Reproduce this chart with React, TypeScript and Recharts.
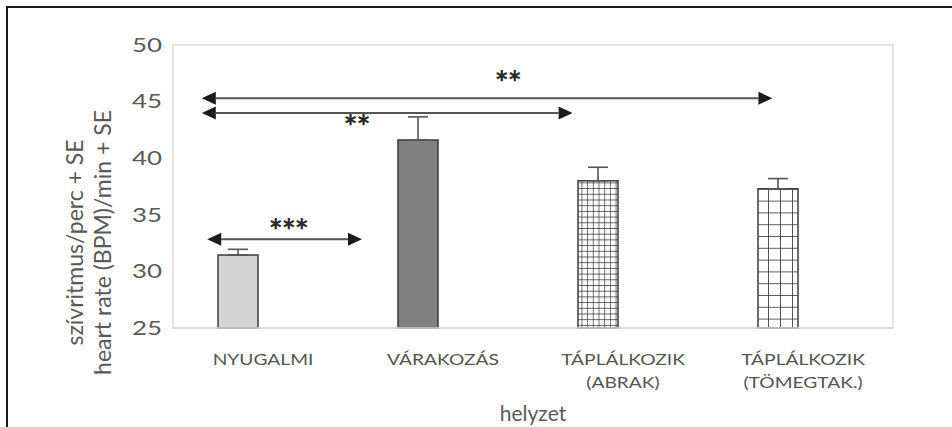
import React from "react";
import {
  Bar,
  BarChart,
  Cell,
  ErrorBar,
  Label,
  ReferenceArea,
  ReferenceDot,
  ReferenceLine,
  XAxis,
  YAxis,
} from "recharts";

const categories = ["NYUGALMI", "VÁRAKOZÁS", "TÁPLÁLKOZIK\n(ABRAK)", "TÁPLÁLKOZIK\n(TÖMEGTAK.)"];
const heartRate = [31.45, 41.6, 38.0, 37.3];
const heartRateSE = [0.5, 2.05, 1.2, 0.9];
const yTicks = [25, 30, 35, 40, 45, 50];

// significance arrows: x in category units (0..4), y in bpm
const arrowStart = [0.16, 0.16, 0.19];
const arrowEnd = [3.33, 2.22, 1.05];
const arrowLevel = [45.3, 44.0, 32.85];
const starText = ["**", "**", "***"];
const starX = [1.86, 1.02, 0.64];
const starY = [47.2, 43.3, 34.1];

const barFills = ["#d3d3d3", "#808080", "url(#gridSmall)", "url(#gridLarge)"];
const FONT = "Lato, 'Open Sans', sans-serif";
const GREY = "#595959";

const data = categories.map((name, i) => ({
  name,
  pos: i + 0.5,
  hr: heartRate[i],
  err: [0, heartRateSE[i]],
  empty: null,
}));

function CategoryTick({ x, y, payload }: any) {
  const lines = String(payload.value).split("\n");
  return (
    <g>
      {lines.map((line, i) => (
        <text
          key={i}
          transform={`translate(${x},${y + 36.5 + i * 23.5}) scale(1.2,1)`}
          textAnchor="middle"
          fontFamily={FONT}
          fontSize={16}
          fill="#555"
        >
          {line}
        </text>
      ))}
    </g>
  );
}

function ValueTick({ x, y, payload }: any) {
  return (
    <text
      transform={`translate(${x - 11},${y + 6.7}) scale(1.4,1)`}
      textAnchor="end"
      fontFamily={FONT}
      fontSize={18.5}
      fill={GREY}
    >
      {payload.value}
    </text>
  );
}

function YTitle({ viewBox }: any) {
  const cy = viewBox.y + viewBox.height / 2 + 56;
  const lines = ["szívritmus/perc + SE", "heart rate (BPM)/min + SE"];
  const xs = [viewBox.x + 83, viewBox.x + 111];
  return (
    <g>
      {lines.map((t, i) => (
        <text
          key={i}
          transform={`translate(${xs[i]},${cy}) rotate(-90)`}
          textAnchor="middle"
          fontFamily={FONT}
          fontSize={23}
          fill={GREY}
        >
          {t}
        </text>
      ))}
    </g>
  );
}

function XTitle({ viewBox }: any) {
  return (
    <text
      x={viewBox.x + viewBox.width / 2}
      y={viewBox.y + 92.5}
      textAnchor="middle"
      fontFamily={FONT}
      fontSize={21}
      fill={GREY}
    >
      helyzet
    </text>
  );
}

function DoubleArrow({ x1, y1, x2, y2 }: any) {
  const len = 14;
  const half = 6.5;
  return (
    <g>
      <line x1={x1 + len} y1={y1} x2={x2 - len} y2={y2} stroke="#555" strokeWidth={2} />
      <polygon points={`${x1},${y1} ${x1 + len},${y1 - half} ${x1 + len},${y1 + half}`} fill="#1c1c1c" />
      <polygon points={`${x2},${y2} ${x2 - len},${y2 - half} ${x2 - len},${y2 + half}`} fill="#1c1c1c" />
    </g>
  );
}

export default function App() {
  return (
    <div style={{ position: "absolute", left: 0, top: 0, width: 952, height: 427, background: "#fff" }}>
      <div
        style={{
          position: "absolute",
          left: 6,
          top: 6,
          width: 946,
          height: 421,
          borderLeft: "2px solid #1a1a1a",
          borderTop: "2px solid #1a1a1a",
        }}
      />
      <div style={{ position: "absolute", left: 0, top: 0 }}>
        <BarChart
          width={952}
          height={427}
          data={data}
          margin={{ top: 45, right: 59, left: 0, bottom: 0 }}
          barSize={40}
          barGap={10}
        >
          <defs>
            <pattern id="gridSmall" width="5.7" height="5.7" patternUnits="userSpaceOnUse">
              <rect width="5.7" height="5.7" fill="#fff" />
              <path d="M0 0 H5.7 M0 0 V5.7" stroke="#2b2b2b" strokeWidth={1.3} />
            </pattern>
            <pattern id="gridLarge" width="12" height="11.8" patternUnits="userSpaceOnUse">
              <rect width="12" height="11.8" fill="#fff" />
              <path d="M0 0 H12 M0 0 V11.8" stroke="#2b2b2b" strokeWidth={1.6} />
            </pattern>
          </defs>
          <XAxis
            xAxisId="num"
            dataKey="pos"
            type="number"
            domain={[0, 4]}
            allowDataOverflow
            ticks={[0, 1, 2, 3, 4]}
            height={0}
            axisLine={false}
            tick={() => <g />}
            tickSize={8}
            tickLine={{ stroke: "#d9d9d9", strokeWidth: 1.5 }}
          />
          <XAxis
            dataKey="name"
            height={99}
            interval={0}
            tickLine={false}
            tickSize={0}
            tickMargin={0}
            axisLine={{ stroke: "#d9d9d9", strokeWidth: 1.5 }}
            tick={<CategoryTick />}
          >
            <Label content={<XTitle />} />
          </XAxis>
          <YAxis
            width={173}
            domain={[25, 50]}
            ticks={yTicks}
            axisLine={false}
            tickLine={false}
            tickSize={0}
            tickMargin={0}
            tick={<ValueTick />}
          >
            <Label content={<YTitle />} />
          </YAxis>
          <ReferenceArea
            xAxisId="num"
            x1={0}
            x2={4}
            y1={25}
            y2={50}
            fill="none"
            fillOpacity={0}
            stroke="#dcdcdc"
            strokeWidth={1.5}
            ifOverflow="visible"
          />
          <Bar dataKey="hr" isAnimationActive={false} stroke="#3c3c3c" strokeWidth={1.5}>
            {data.map((d, i) => (
              <Cell key={d.name} fill={barFills[i]} />
            ))}
            <ErrorBar dataKey="err" width={10} stroke="#555" strokeWidth={1.6} direction="y" />
          </Bar>
          <Bar dataKey="empty" isAnimationActive={false} />
          {arrowLevel.map((lvl, i) => (
            <ReferenceLine
              key={`a${i}`}
              xAxisId="num"
              ifOverflow="visible"
              segment={[
                { x: arrowStart[i], y: lvl },
                { x: arrowEnd[i], y: lvl },
              ]}
              shape={(p: any) => <DoubleArrow {...p} />}
            />
          ))}
          {starText.map((t, i) => (
            <ReferenceDot
              key={`s${i}`}
              xAxisId="num"
              x={starX[i]}
              y={starY[i]}
              ifOverflow="visible"
              shape={(p: any) => (
                <text
                  x={p.cx}
                  y={p.cy + 17}
                  textAnchor="middle"
                  fontFamily={FONT}
                  fontWeight={900}
                  fontSize={33}
                  letterSpacing={-1}
                  fill="#2a2a2a"
                >
                  {t}
                </text>
              )}
            />
          ))}
        </BarChart>
      </div>
    </div>
  );
}
